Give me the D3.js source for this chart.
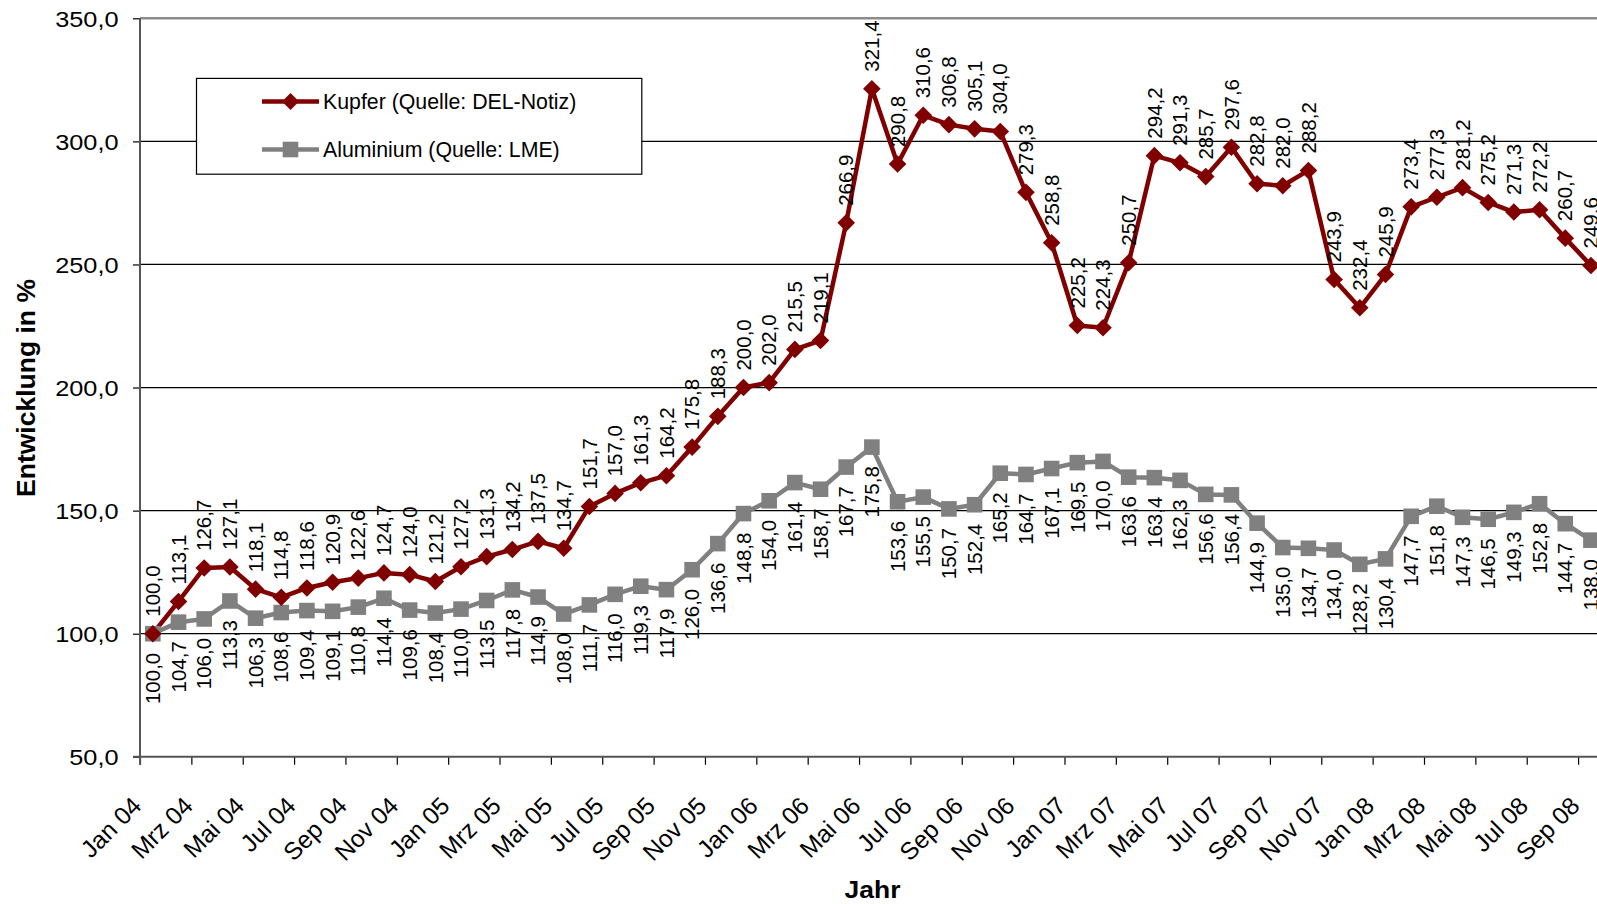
<!DOCTYPE html>
<html>
<head>
<meta charset="utf-8">
<script src="https://cdn.jsdelivr.net/npm/d3@7"></script>
<style>
  html, body { margin: 0; padding: 0; background: #ffffff; }
  svg { display: block; }
  text { font-family: "Liberation Sans", Arial, Helvetica, sans-serif; fill: #000; }
</style>
</head>
<body>
<svg id="chart" width="1597" height="904"></svg>
<script>
// ---- Data ----
const categories = [
  "Jan 04","Feb 04","Mrz 04","Apr 04","Mai 04","Jun 04","Jul 04","Aug 04","Sep 04","Okt 04","Nov 04","Dez 04",
  "Jan 05","Feb 05","Mrz 05","Apr 05","Mai 05","Jun 05","Jul 05","Aug 05","Sep 05","Okt 05","Nov 05","Dez 05",
  "Jan 06","Feb 06","Mrz 06","Apr 06","Mai 06","Jun 06","Jul 06","Aug 06","Sep 06","Okt 06","Nov 06","Dez 06",
  "Jan 07","Feb 07","Mrz 07","Apr 07","Mai 07","Jun 07","Jul 07","Aug 07","Sep 07","Okt 07","Nov 07","Dez 07",
  "Jan 08","Feb 08","Mrz 08","Apr 08","Mai 08","Jun 08","Jul 08","Aug 08","Sep 08"
];
const kupfer = [
  100.0,113.1,126.7,127.1,118.1,114.8,118.6,120.9,122.6,124.7,124.0,121.2,
  127.2,131.3,134.2,137.5,134.7,151.7,157.0,161.3,164.2,175.8,188.3,200.0,
  202.0,215.5,219.1,266.9,321.4,290.8,310.6,306.8,305.1,304.0,279.3,258.8,
  225.2,224.3,250.7,294.2,291.3,285.7,297.6,282.8,282.0,288.2,243.9,232.4,
  245.9,273.4,277.3,281.2,275.2,271.3,272.2,260.7,249.6
];
const aluminium = [
  100.0,104.7,106.0,113.3,106.3,108.6,109.4,109.1,110.8,114.4,109.6,108.4,
  110.0,113.5,117.8,114.9,108.0,111.7,116.0,119.3,117.9,126.0,136.6,148.8,
  154.0,161.4,158.7,167.7,175.8,153.6,155.5,150.7,152.4,165.2,164.7,167.1,
  169.5,170.0,163.6,163.4,162.3,156.6,156.4,144.9,135.0,134.7,134.0,128.2,
  130.4,147.7,151.8,147.3,146.5,149.3,152.8,144.7,138.0
];
const yTickValues = [50, 100, 150, 200, 250, 300, 350];
const xTickLabels = categories.filter((c, i) => i % 2 === 0);
const seriesNames = ["Kupfer (Quelle: DEL-Notiz)", "Aluminium (Quelle: LME)"];
const yTitle = "Entwicklung in %";
const xTitle = "Jahr";

// ---- Layout ----
const plotLeft = 140, plotTop = 18.3, plotBottom = 756.8, step = 25.68;
const n = categories.length;
const svg = d3.select("#chart");
const fmt = v => d3.format(".1f")(v).replace(".", ",");

const x = d3.scaleLinear().domain([0, n]).range([plotLeft, plotLeft + n * step]);
const y = d3.scaleLinear().domain([50, 350]).range([plotBottom, plotTop]);
const cx = i => x(i + 0.5);

const red = "#800000", gray = "#808080";

// gridlines
svg.append("g").selectAll("line")
  .data(yTickValues.filter(v => v > 50 && v < 350))
  .join("line")
  .attr("x1", plotLeft).attr("x2", 1597)
  .attr("y1", d => y(d)).attr("y2", d => y(d))
  .attr("stroke", "#000").attr("stroke-width", 1.2);

// top border
svg.append("line").attr("x1", plotLeft).attr("x2", 1597)
  .attr("y1", y(350)).attr("y2", y(350))
  .attr("stroke", "#8c8c8c").attr("stroke-width", 2.6);

// y axis
const yAxis = svg.append("g").attr("transform", `translate(${plotLeft},0)`)
  .call(d3.axisLeft(y).tickValues(yTickValues).tickSize(7).tickFormat(fmt));
yAxis.select(".domain").remove();
yAxis.selectAll(".tick line").attr("stroke", "#000").attr("stroke-width", 1.2);
yAxis.selectAll(".tick text")
  .attr("x", null).attr("dy", null)
  .attr("text-anchor", "end")
  .attr("transform", "translate(-21.5,7.8) scale(1.15,1)")
  .style("font-size", "22px")
  .style("font-family", '"Liberation Sans", Arial, sans-serif')
  .attr("fill", "#000");

// x axis
const xAxis = svg.append("g").attr("transform", `translate(0,${plotBottom})`)
  .call(d3.axisBottom(x).tickValues(d3.range(0, n, 2)).tickSize(8).tickFormat(i => xTickLabels[i / 2]));
xAxis.select(".domain").remove();
xAxis.selectAll(".tick line").attr("stroke", "#000").attr("stroke-width", 1.2);
xAxis.selectAll(".tick text")
  .attr("y", 0).attr("dy", null)
  .attr("text-anchor", "end")
  .attr("transform", "translate(2.5,50.5) rotate(-45)")
  .style("font-size", "24.5px")
  .style("font-family", '"Liberation Sans", Arial, sans-serif')
  .attr("fill", "#000");

// axis lines
svg.append("line").attr("x1", plotLeft - 7).attr("x2", 1597).attr("y1", plotBottom).attr("y2", plotBottom)
  .attr("stroke", "#555").attr("stroke-width", 2);
svg.append("line").attr("x1", plotLeft).attr("x2", plotLeft).attr("y1", plotTop).attr("y2", plotBottom + 8)
  .attr("stroke", "#555").attr("stroke-width", 2);

// lines
const line = d3.line().x((d, i) => cx(i)).y(d => y(d));
svg.append("path").datum(aluminium).attr("d", line)
  .attr("fill", "none").attr("stroke", gray).attr("stroke-width", 4.5).attr("stroke-linejoin", "round");
svg.append("path").datum(kupfer).attr("d", line)
  .attr("fill", "none").attr("stroke", red).attr("stroke-width", 4.5).attr("stroke-linejoin", "round");

const diamond = r => `M0,${-r}L${r},0L0,${r}L${-r},0Z`;
const sq = 7.8;

svg.append("g").selectAll("rect").data(aluminium).join("rect")
  .attr("x", (d, i) => cx(i) - sq).attr("y", d => y(d) - sq)
  .attr("width", sq * 2).attr("height", sq * 2).attr("fill", gray);
svg.append("g").selectAll("path").data(kupfer).join("path")
  .attr("d", diamond(8.8))
  .attr("transform", (d, i) => `translate(${cx(i)},${y(d)})`)
  .attr("fill", red);

// data labels
svg.append("g").selectAll("text").data(kupfer).join("text")
  .attr("transform", (d, i) => `translate(${cx(i)},${y(d) - 17}) rotate(-90)`)
  .attr("dy", "0.35em").attr("text-anchor", "start")
  .style("font-size", "20.5px").text(fmt);
svg.append("g").selectAll("text").data(aluminium).join("text")
  .attr("transform", (d, i) => `translate(${cx(i)},${y(d) + 19}) rotate(-90)`)
  .attr("dy", "0.35em").attr("text-anchor", "end")
  .style("font-size", "20.5px").text(fmt);

// legend
const lg = svg.append("g");
lg.append("rect").attr("x", 196.5).attr("y", 78.4).attr("width", 445.3).attr("height", 95.8)
  .attr("fill", "#fff").attr("stroke", "#000").attr("stroke-width", 1.2);
const rows = [{ name: seriesNames[0], color: red, m: "d", yy: 101.5 },
              { name: seriesNames[1], color: gray, m: "s", yy: 149.5 }];
rows.forEach(r => {
  lg.append("line").attr("x1", 262).attr("x2", 319).attr("y1", r.yy).attr("y2", r.yy)
    .attr("stroke", r.color).attr("stroke-width", 4.5);
  if (r.m === "d") {
    lg.append("path").attr("d", diamond(8.5)).attr("transform", `translate(290.5,${r.yy})`).attr("fill", r.color);
  } else {
    lg.append("rect").attr("x", 290.5 - sq).attr("y", r.yy - sq).attr("width", sq * 2).attr("height", sq * 2).attr("fill", r.color);
  }
  lg.append("text").attr("x", 323).attr("y", r.yy).attr("dy", "0.36em")
    .style("font-size", "21.3px").text(r.name);
});

// axis titles
svg.append("text")
  .attr("transform", `translate(26,388) rotate(-90)`)
  .attr("text-anchor", "middle").attr("dy", "0.35em")
  .style("font-size", "26.5px").style("font-weight", "bold").text(yTitle);
svg.append("text")
  .attr("transform", `translate(872.5,898) scale(1.15,1)`)
  .attr("text-anchor", "middle")
  .style("font-size", "23px").style("font-weight", "bold").text(xTitle);
</script>
</body>
</html>
